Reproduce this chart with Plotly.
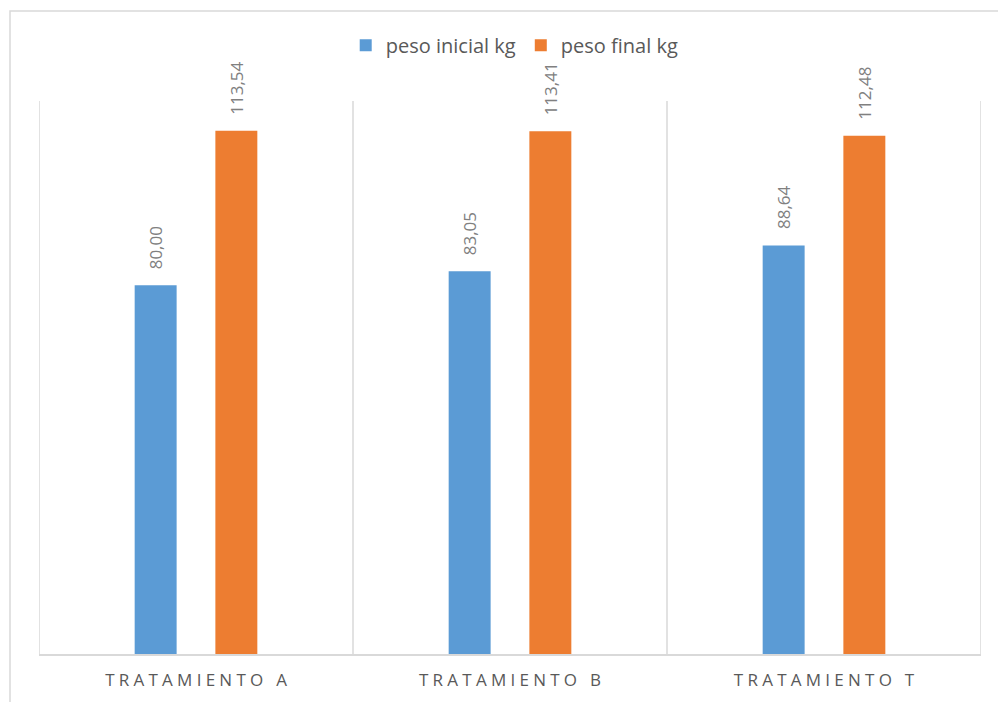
import plotly.graph_objects as go

# Datos de peso por tratamiento
categorias = ["TRATAMIENTO A", "TRATAMIENTO B", "TRATAMIENTO T"]
peso_inicial = [80.00, 83.05, 88.64]
peso_final = [113.54, 113.41, 112.48]

azul = "#5B9BD5"
naranja = "#ED7D31"
gris_texto = "#595959"
gris_etiqueta = "#808080"
gris_linea = "#D9D9D9"
fuente = "Open Sans"


def espaciado(texto):
    # separa las letras con espacios para imitar el interletrado
    return "\u2005".join(texto)


def coma(v):
    return f"{v:.2f}".replace(".", ",")


fig = go.Figure()
fig.add_trace(go.Bar(name="peso inicial kg", x=categorias, y=peso_inicial,
                     marker=dict(color=azul, line=dict(width=0))))
fig.add_trace(go.Bar(name="peso final kg", x=categorias, y=peso_final,
                     marker=dict(color=naranja, line=dict(width=0))))

# etiquetas de valor giradas sobre cada barra
desplaz = 40.5
for serie, dx in ((peso_inicial, -desplaz), (peso_final, desplaz)):
    for cat, v in zip(categorias, serie):
        fig.add_annotation(x=cat, y=v, xref="x", yref="y", text=coma(v),
                           textangle=-90, showarrow=False, xanchor="center",
                           yanchor="bottom", xshift=dx, yshift=14,
                           font=dict(family=fuente, size=17, color=gris_etiqueta))

# líneas verticales entre categorías
for xv in (-0.5, 0.5, 1.5, 2.5):
    fig.add_shape(type="line", xref="x", yref="paper", x0=xv, x1=xv, y0=0, y1=1,
                  line=dict(color=gris_linea, width=1.5), layer="below")

# borde exterior del gráfico
fig.add_shape(type="rect", xref="paper", yref="paper",
              x0=(10 - 39) / 942, x1=(1004 - 39) / 942,
              y0=(654 - 710) / 553, y1=(654 - 11) / 553,
              line=dict(color=gris_linea, width=1.5), fillcolor="rgba(0,0,0,0)")

fig.update_layout(
    width=998, height=702,
    margin=dict(l=39, r=17, t=101, b=48),
    paper_bgcolor="white", plot_bgcolor="white",
    barmode="group", bargap=0.486, bargroupgap=0.48,
    font=dict(family=fuente, color=gris_texto),
    showlegend=True,
    legend=dict(orientation="h", x=0.505, y=1.101, xanchor="center", yanchor="middle",
                font=dict(family=fuente, size=20, color=gris_texto),
                itemwidth=30, tracegroupgap=0, bgcolor="rgba(0,0,0,0)"),
    xaxis=dict(tickmode="array", tickvals=categorias,
               ticktext=[espaciado(c) for c in categorias],
               tickfont=dict(family=fuente, size=17, color=gris_texto),
               ticklabelstandoff=10,
               showgrid=False, showline=True, linecolor=gris_linea, linewidth=1.5,
               ticks="", range=[-0.5, 2.5]),
    yaxis=dict(range=[0, 120], visible=False, showgrid=False, zeroline=False),
)

fig.write_html("out.html")
